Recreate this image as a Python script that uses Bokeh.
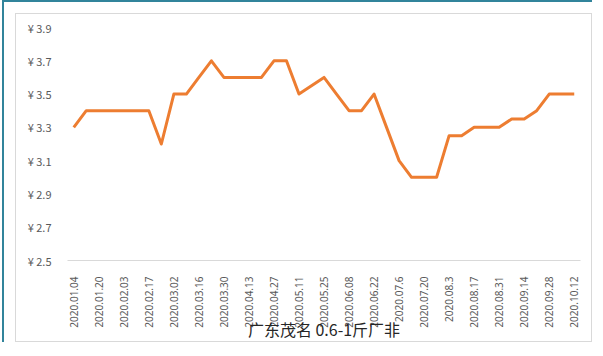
import math
from bokeh.plotting import figure
from bokeh.layouts import column
from bokeh.models import Range1d, FixedTicker, PrintfTickFormatter
from bokeh.embed import file_html
from bokeh.resources import INLINE

# ---- data ----
tick_labels = ["2020.01.04", "2020.01.20", "2020.02.03", "2020.02.17", "2020.03.02",
               "2020.03.16", "2020.03.30", "2020.04.13", "2020.04.27", "2020.05.11",
               "2020.05.25", "2020.06.08", "2020.06.22", "2020.07.6", "2020.07.20",
               "2020.08.3", "2020.08.17", "2020.08.31", "2020.09.14", "2020.09.28",
               "2020.10.12"]
prices = [3.3, 3.4, 3.4, 3.4, 3.4, 3.4, 3.4, 3.2, 3.5, 3.5,
          3.6, 3.7, 3.6, 3.6, 3.6, 3.6, 3.7, 3.7, 3.5, 3.55,
          3.6, 3.5, 3.4, 3.4, 3.5, 3.3, 3.1, 3.0, 3.0, 3.0,
          3.25, 3.25, 3.3, 3.3, 3.3, 3.35, 3.35, 3.4, 3.5, 3.5,
          3.5]
yticks = [2.5, 2.7, 2.9, 3.1, 3.3, 3.5, 3.7, 3.9]
title_text = "广东茂名 0.6-1斤厂非"

x = list(range(len(prices)))
label_every = 2

p = figure(width=577, height=329, output_backend="svg", toolbar_location=None,
           x_range=Range1d(-0.5, len(prices) - 0.5), y_range=Range1d(yticks[0], yticks[-1]),
           min_border_left=51, min_border_right=13, min_border_top=13, min_border_bottom=80,
           background_fill_color="white", border_fill_color="white",
           margin=(11, 0, 0, 11))
p.styles = {"border": "1px solid #d9d9d9"}
p.outline_line_color = None
p.xgrid.grid_line_color = None
p.ygrid.grid_line_color = None

p.line(x, prices, line_color="#ED7D31", line_width=3, line_join="round")

# x axis
p.xaxis.ticker = FixedTicker(ticks=x[::label_every])
p.xaxis.major_label_overrides = {x[i * label_every]: t for i, t in enumerate(tick_labels)}
p.xaxis.major_label_orientation = math.pi / 2
p.xaxis.axis_line_color = "#d9d9d9"
p.xaxis.axis_line_width = 1
p.xaxis.major_tick_line_color = None
p.xaxis.minor_tick_line_color = None
p.xaxis.major_label_standoff = 10
p.xaxis.major_label_text_font = "Noto Sans"
p.xaxis.major_label_text_font_size = "10px"
p.xaxis.major_label_text_color = "#595959"

# chart title sits under the chart, overlapping the date labels
p.xaxis.axis_label = title_text
p.xaxis.axis_label_standoff = -14
p.xaxis.axis_label_text_font = "Noto Sans CJK SC"
p.xaxis.axis_label_text_font_size = "16px"
p.xaxis.axis_label_text_font_style = "normal"
p.xaxis.axis_label_text_color = "#262626"

# y axis
p.yaxis.ticker = FixedTicker(ticks=yticks)
p.yaxis.formatter = PrintfTickFormatter(format="¥ %.1f")
p.yaxis.axis_line_color = None
p.yaxis.major_tick_line_color = None
p.yaxis.minor_tick_line_color = None
p.yaxis.major_label_standoff = 10
p.yaxis.major_label_text_font = "Noto Sans CJK SC"
p.yaxis.major_label_text_font_size = "11px"
p.yaxis.major_label_text_color = "#595959"

page = column(p, styles={"border-top": "2px solid #31849B",
                         "border-left": "2px solid #31849B"},
              margin=(0, 0, 0, 2))

open("out.html", "w").write(file_html(page, INLINE))
